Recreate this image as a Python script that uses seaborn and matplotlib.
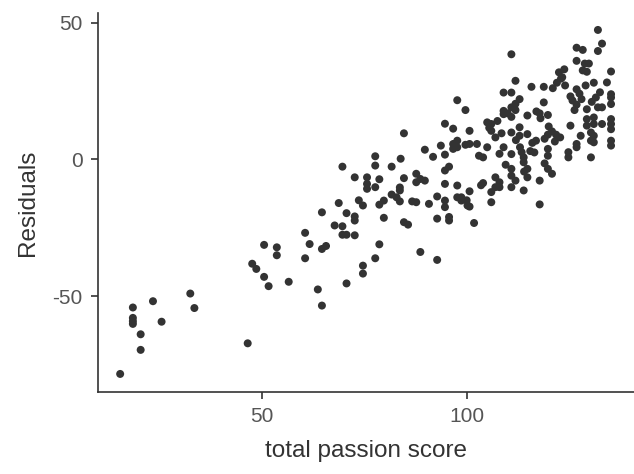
import matplotlib
matplotlib.use("Agg")
import pandas as pd
import seaborn as sns
import matplotlib.pyplot as plt

# values
passion = [
    15.5, 18.6, 18.6, 18.6, 18.6, 20.5, 20.5, 23.5, 25.6, 32.6, 33.6,
    46.6, 47.7, 48.7, 50.6, 50.6, 51.7, 53.7, 53.7, 56.6, 60.6, 60.6,
    61.7, 63.7, 64.7, 64.7, 64.7, 65.7, 67.8, 68.8, 69.7, 69.7, 69.7,
    70.7, 70.7, 70.7, 72.7, 72.7, 72.7, 72.7, 73.7, 74.7, 74.7, 74.7,
    75.7, 75.7, 75.7, 77.7, 77.7, 77.7, 78.7, 78.7, 78.7, 77.7, 79.8,
    79.8, 81.7, 81.7, 82.9, 83.7, 83.7, 83.7, 83.9, 84.7, 84.7, 84.7,
    85.7, 86.7, 87.7, 87.7, 87.7, 88.7, 88.7, 89.8, 89.8, 90.8, 91.8,
    92.8, 92.8, 92.8, 93.7, 94.7, 94.7, 94.7, 94.7, 94.7, 94.7, 95.7,
    95.7, 95.7, 96.7, 96.7, 96.7, 97.7, 97.7, 97.7, 97.7, 97.7, 98.7,
    98.7, 99.7, 99.7, 100.0, 100.2, 100.7, 100.7, 100.7, 100.7, 101.8,
    102.5, 103.0, 104.0, 104.0, 105.0, 105.0, 106.0, 106.0, 106.0, 106.0,
    107.0, 107.0, 108.0, 108.0, 107.0, 109.0, 109.0, 109.0, 109.0, 110.0,
    110.9, 110.9, 111.9, 111.9, 110.9, 110.9, 110.9, 110.9, 110.9, 110.9,
    110.9, 111.9, 111.9, 112.9, 112.9, 112.9, 113.0, 113.4, 113.9, 113.9,
    113.9, 114.8, 114.8, 114.8, 114.8, 115.8, 116.9, 117.0, 117.8, 119.8,
    117.8, 117.8, 118.8, 118.8, 119.0, 119.8, 120.8, 121.8, 122.8, 119.8,
    119.8, 119.8, 120.8, 121.0, 122.0, 123.0, 122.5, 123.3, 123.8, 124.8,
    124.8, 125.3, 125.3, 125.8, 126.8, 126.3, 126.8, 126.8, 126.8, 126.8,
    126.8, 127.8, 128.3, 128.3, 128.8, 129.8, 129.3, 129.3, 129.3, 129.3,
    130.3, 130.3, 130.3, 131.0, 130.5, 131.5, 131.0, 131.0, 131.0, 131.0,
    132.0, 132.0, 133.0, 132.0, 133.0, 133.0, 134.2, 135.2, 135.2, 135.2,
    135.2, 135.2, 135.2, 135.2, 135.2, 135.2,
    103.5, 105.5, 107.5, 108.5, 112.0, 115.5, 116.0, 118.0, 120.0, 121.5,
    124.0, 127.5, 128.0, 129.0, 132.5, 108.0, 109.5, 114.0, 116.5, 119.0,
]
residuals = [
    -78.5, -54.2, -58.0, -59.2, -60.2, -64.0, -69.7, -51.9, -59.4, -49.1, -54.4,
    -67.3, -38.2, -40.1, -31.3, -43.0, -46.4, -32.2, -35.1, -44.8, -26.9, -36.2,
    -31.0, -47.6, -19.4, -53.5, -32.8, -31.7, -24.2, -16.0, -2.7, -24.5, -27.6,
    -27.6, -19.7, -45.4, -6.6, -20.9, -22.4, -27.8, -15.0, -16.9, -38.9, -41.8,
    -6.6, -9.0, -10.8, 1.1, -2.3, -10.2, -7.3, -16.6, -31.1, -36.2, -15.1,
    -21.4, -2.7, -12.9, -13.9, -10.3, -11.4, -15.4, 0.2, 9.5, -6.9, -23.0,
    -23.9, -15.4, -15.7, -5.3, -8.4, -7.2, -33.9, 3.5, -7.8, -16.3, 0.9,
    -13.6, -21.7, -36.8, 5.0, 13.0, 1.7, -4.1, -9.0, -15.1, -17.5, -2.7,
    -21.1, -22.4, 11.2, 5.6, 3.8, 6.8, 4.4, 21.6, -9.6, -13.9, -13.9,
    -15.1, 5.3, 18.0, -15.0, -16.9, -17.3, 10.4, 5.6, -11.7, -23.3,
    5.6, 1.3, 0.7, -8.7, 4.4, 13.5, -12.0, -15.7, 12.9, 10.4,
    8.0, -6.6, -8.4, -10.2, -10.2, 24.4, 17.7, 16.5, 4.4, 16.8,
    19.0, 15.5, 18.0, 20.3, 38.4, 24.4, 9.8, 1.9, -3.5, -6.0,
    -10.2, 28.7, -7.8, 22.0, 11.7, 8.6, 4.4, 2.6, 0.7, -1.1,
    -11.4, 16.0, 9.2, -3.5, -6.6, 26.5, 6.8, 17.5, 16.8, 16.2,
    -7.8, -16.5, 26.5, 20.8, 7.5, 9.0, 10.2, 9.0, 8.0, 3.8,
    1.3, -3.5, -5.3, 26.0, 28.0, 29.5, 31.8, 30.0, 32.9, 2.6,
    0.7, 12.3, 23.0, 21.5, 20.0, 18.0, 25.6, 36.0, 40.8, 5.6,
    4.4, 8.6, 40.0, 32.5, 35.0, 35.0, 18.3, 14.7, 12.3, 32.0,
    9.8, 6.8, 0.7, 28.0, 21.0, 22.6, 15.3, 12.9, 8.6, 6.2,
    47.3, 39.6, 42.3, 19.0, 19.0, 12.9, 28.1, 32.1, 23.8, 22.6,
    20.2, 14.7, 12.9, 11.0, 6.8, 5.0,
    -9.5, 11.5, 14.0, 9.5, 7.0, 3.0, 6.0, 15.0, 12.0, 6.5,
    27.0, 24.0, 22.0, 27.0, 24.5, 2.0, -2.0, -4.5, 2.5, -1.5,
]

df = pd.DataFrame({"total passion score": passion, "Residuals": residuals})

sns.set_style("ticks")
plt.rcParams["font.family"] = ["Liberation Sans", "DejaVu Sans"]
plt.rcParams["axes.unicode_minus"] = False  # reference uses a plain hyphen

fig = plt.figure(figsize=(6.34, 4.74), dpi=100)
ax = fig.add_axes([0.1546, 0.1736, 0.8454, 0.799])

sns.scatterplot(data=df, x="total passion score", y="Residuals", ax=ax,
                color="#333333", s=33, linewidth=0, edgecolor="none")

ax.set_xlim(10.1, 140.8)
ax.set_ylim(-85, 53.5)
ax.set_xticks([50, 100])
ax.set_yticks([-50, 0, 50])

for side in ["top", "right"]:
    ax.spines[side].set_visible(False)
for side in ["left", "bottom"]:
    ax.spines[side].set_color("#333333")
    ax.spines[side].set_linewidth(1.2)

ax.tick_params(axis="both", colors="#333333", width=1.2, length=5,
               labelsize=15, labelcolor="#555555", pad=6)
ax.set_xlabel("total passion score", fontsize=17.5, color="#333333", labelpad=10)
ax.set_ylabel("Residuals", fontsize=17.5, color="#333333", labelpad=10)

fig.savefig("out.png", dpi=100)
